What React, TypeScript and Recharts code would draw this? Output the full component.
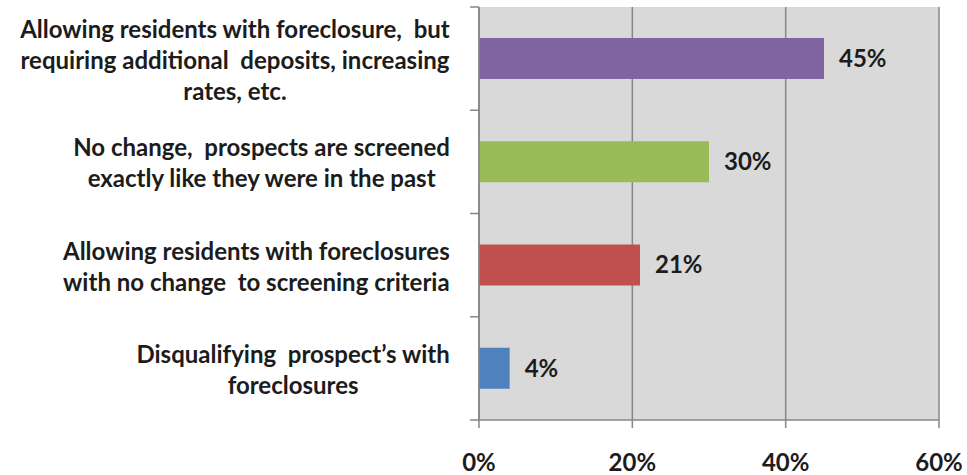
import React from 'react';
import { BarChart, Bar, XAxis, YAxis, CartesianGrid, Cell, LabelList } from 'recharts';

const categoryLines: string[][] = [
  ['Allowing residents with foreclosure,  but', 'requiring additional  deposits, increasing', 'rates, etc.'],
  ['No change,  prospects are screened', 'exactly like they were in the past'],
  ['Allowing residents with foreclosures', 'with no change  to screening criteria'],
  ['Disqualifying  prospect\u2019s with', 'foreclosures'],
];
const shares = [45, 30, 21, 4];
const xTicks = [0, 20, 40, 60];

const barColors = ['#8064A2', '#9BBB59', '#C0504D', '#4F81BD'];

const W = 967;
const H = 475;
const MARGIN = { top: 7, right: 28, bottom: 0, left: 0 };
const Y_AXIS_W = 479;
const X_AXIS_H = 55;
const PLOT_H = H - MARGIN.top - MARGIN.bottom - X_AXIS_H;
const BAND = PLOT_H / categoryLines.length;

const FONT = 'Lato, "Open Sans", sans-serif';
const LABEL_SIZE = 24;
const LINE_GAP = 31;
const AXIS_GREY = '#868686';
const TEXT = '#1C1C1C';

const data = categoryLines.map((lines, i) => ({ name: String(i), value: shares[i] }));

let ctx: CanvasRenderingContext2D | null = null;
function textWidth(s: string) {
  if (!ctx) ctx = document.createElement('canvas').getContext('2d');
  if (!ctx) return s.length * LABEL_SIZE * 0.5;
  ctx.font = `bold ${LABEL_SIZE}px ${FONT}`;
  return ctx.measureText(s).width;
}

function CategoryTick(props: any) {
  const { x, y, payload, index } = props;
  const lines = categoryLines[Number(payload.value)];
  const maxW = Math.max(...lines.map(textWidth));
  const cx = x - maxW / 2;
  const startY = y - ((lines.length - 1) * LINE_GAP) / 2;
  const axisX = MARGIN.left + Y_AXIS_W;
  return (
    <g>
      <line x1={axisX - 9} x2={axisX} y1={y - BAND / 2} y2={y - BAND / 2} stroke={AXIS_GREY} strokeWidth={1.5} />
      {index === categoryLines.length - 1 && (
        <line x1={axisX - 9} x2={axisX} y1={y + BAND / 2} y2={y + BAND / 2} stroke={AXIS_GREY} strokeWidth={1.5} />
      )}
      <text
        x={cx}
        y={startY}
        textAnchor="middle"
        dominantBaseline="central"
        fontFamily={FONT}
        fontWeight="bold"
        fontSize={LABEL_SIZE}
        fill={TEXT}
      >
        {lines.map((l, i) => (
          <tspan key={i} x={cx} y={startY + i * LINE_GAP} style={{ whiteSpace: 'pre' }}>
            {l}
          </tspan>
        ))}
      </text>
    </g>
  );
}

export default function App() {
  return (
    <div style={{ position: 'absolute', left: 0, top: 0, width: W, height: H, background: '#fff' }}>
      <BarChart width={W} height={H} data={data} layout="vertical" margin={MARGIN} barCategoryGap="30%">
        <CartesianGrid horizontal={false} vertical stroke={AXIS_GREY} strokeWidth={1.5} fill="#D9D9D9" />
        <XAxis
          type="number"
          domain={[0, 60]}
          ticks={xTicks}
          tickFormatter={(v: number) => `${v}%`}
          height={X_AXIS_H}
          stroke={AXIS_GREY}
          strokeWidth={1.5}
          tickSize={8}
          tickMargin={26}
          tick={{ fill: TEXT, fontFamily: FONT, fontWeight: 'bold', fontSize: 24 }}
          interval={0}
        />
        <YAxis
          type="category"
          dataKey="name"
          width={Y_AXIS_W}
          stroke={AXIS_GREY}
          strokeWidth={1.5}
          tickLine={false}
          tickSize={0}
          tickMargin={29}
          tick={(p: any) => <CategoryTick {...p} />}
          interval={0}
        />
        <Bar dataKey="value" isAnimationActive={false}>
          {data.map((d, i) => (
            <Cell key={d.name} fill={barColors[i]} />
          ))}
          <LabelList
            dataKey="value"
            position="right"
            offset={15}
            formatter={(v: any) => `${v}%`}
            fill={TEXT}
            fontFamily={FONT}
            fontWeight="bold"
            fontSize={24}
          />
        </Bar>
      </BarChart>
    </div>
  );
}
